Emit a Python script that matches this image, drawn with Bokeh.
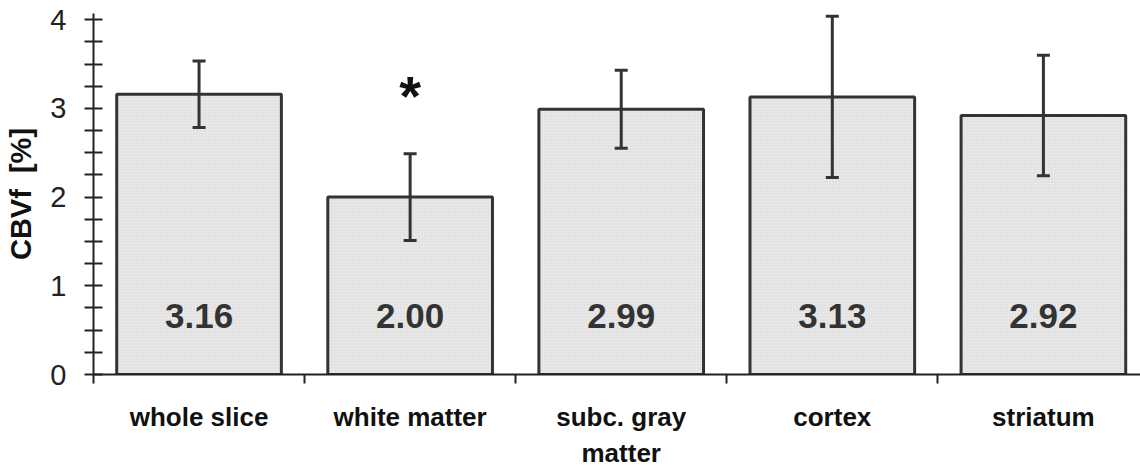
from bokeh.plotting import figure
from bokeh.models import ColumnDataSource, Range1d, FixedTicker, LinearAxis
from bokeh.core.properties import value
from bokeh.embed import file_html
from bokeh.resources import INLINE

categories = ["whole slice", "white matter", "subc. gray\nmatter", "cortex", "striatum"]
means = [3.16, 2.00, 2.99, 3.13, 2.92]
errors = [0.375, 0.49, 0.44, 0.91, 0.68]
value_labels = ["3.16", "2.00", "2.99", "3.13", "2.92"]
significant = ["", "*", "", "", ""]
y_ticks = [0, 1, 2, 3, 4]
y_minor = [0.25, 0.5, 0.75, 1.25, 1.5, 1.75, 2.25, 2.5, 2.75, 3.25, 3.5, 3.75]

xc = [i + 0.5 for i in range(len(categories))]
src = ColumnDataSource(dict(
    x=xc, top=means,
    upper=[m + e for m, e in zip(means, errors)],
    lower=[m - e for m, e in zip(means, errors)],
    lab=value_labels,
    ly=[0.66] * len(means),
))
star_src = ColumnDataSource(dict(
    x=[x for x, s in zip(xc, significant) if s],
    y=[m + e + 0.65 for m, e, s in zip(means, errors, significant) if s],
    t=[s for s in significant if s],
))

p = figure(width=1140, height=470, output_backend="svg", toolbar_location=None,
           x_range=Range1d(0, 4.96), y_range=Range1d(0, 4.07),
           x_axis_location=None, y_axis_location=None,
           min_border_left=93, min_border_right=0, min_border_top=13, min_border_bottom=95)
p.outline_line_color = None
p.xgrid.visible = False
p.ygrid.visible = False
p.background_fill_color = "white"

p.vbar(x="x", top="top", width=0.78, bottom=0, source=src,
       fill_color="#e8e8e8", line_color="#333333", line_width=3,
       hatch_pattern="dot", hatch_color="#c8c8c8", hatch_scale=3, hatch_weight=0.7, hatch_alpha=0.6)

# error bars
p.segment(x0="x", y0="lower", x1="x", y1="upper", source=src, line_color="#333333", line_width=3)
p.scatter(x="x", y="upper", source=src, marker="dash", size=13, line_color="#333333", line_width=3)
p.scatter(x="x", y="lower", source=src, marker="dash", size=13, line_color="#333333", line_width=3)

p.text(x="x", y="ly", text="lab", source=src, text_align="center", text_baseline="middle",
       text_font=value("Liberation Sans"), text_font_style="bold", text_font_size="35px",
       text_color="#333333")
p.text(x="x", y="y", text="t", source=star_src, text_align="center", text_baseline="middle",
       text_font=value("Liberation Sans"), text_font_style="bold", text_font_size="56px",
       text_color="#111111")

# y axis
ya = LinearAxis(ticker=FixedTicker(ticks=y_ticks, minor_ticks=y_minor))
ya.axis_label = "CBVf\u00a0\u00a0[%]"
ya.axis_label_text_font = "Liberation Sans"
ya.axis_label_text_font_style = "bold"
ya.axis_label_text_font_size = "29px"
ya.axis_label_text_color = "#111111"
ya.axis_label_standoff = 10
ya.major_label_text_font = "Liberation Sans"
ya.major_label_text_font_size = "29px"
ya.major_label_text_color = "#222222"
ya.major_label_standoff = 18
ya.axis_line_color = "#222222"
ya.axis_line_width = 2
ya.major_tick_line_color = "#222222"
ya.major_tick_line_width = 2
ya.major_tick_in = 9
ya.major_tick_out = 9
ya.minor_tick_line_color = "#222222"
ya.minor_tick_line_width = 2
ya.minor_tick_in = 9
ya.minor_tick_out = 9
p.add_layout(ya, "left")

# x axis
xa = LinearAxis(ticker=FixedTicker(ticks=xc, minor_ticks=list(range(len(categories) + 1))))
xa.major_label_overrides = {x: c for x, c in zip(xc, categories)}
xa.major_label_text_font = "Liberation Sans"
xa.major_label_text_font_style = "bold"
xa.major_label_text_font_size = "26px"
xa.major_label_text_color = "#111111"
xa.major_label_text_line_height = 1.2
xa.major_label_standoff = 18
xa.major_tick_line_color = None
xa.axis_line_color = "#222222"
xa.axis_line_width = 2
xa.minor_tick_line_color = "#222222"
xa.minor_tick_line_width = 2
xa.minor_tick_in = 0
xa.minor_tick_out = 9
p.add_layout(xa, "below")

open("out.html", "w").write(file_html(p, INLINE))
